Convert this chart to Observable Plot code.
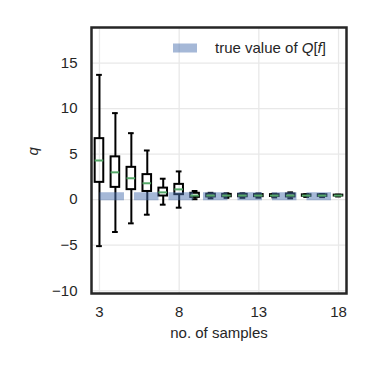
<!DOCTYPE html>
<html>
<head>
<meta charset="utf-8">
<script src="https://cdn.jsdelivr.net/npm/d3@7"></script>
<script src="https://cdn.jsdelivr.net/npm/@observablehq/plot@0.6"></script>
<style>
  html, body { margin: 0; padding: 0; background: white; }
</style>
</head>
<body>
<div id="chart"></div>
<script>
// Data
const sampleSizes = [3, 4, 5, 6, 7, 8, 9, 10, 11, 12, 13, 14, 15, 16, 17, 18];
const whiskerLow  = [-5.1, -3.55, -2.6, -1.65, -0.55, -0.88, 0.05, 0.15, 0.2, 0.2, 0.22, 0.25, 0.15, 0.3, 0.28, 0.35];
const quartile1   = [1.9, 1.35, 1.1, 0.9, 0.4, 0.55, 0.25, 0.3, 0.32, 0.32, 0.33, 0.35, 0.3, 0.37, 0.36, 0.4];
const medians     = [4.3, 3.0, 2.35, 1.8, 0.8, 1.13, 0.45, 0.45, 0.45, 0.45, 0.45, 0.45, 0.45, 0.45, 0.45, 0.45];
const quartile3   = [6.7, 4.7, 3.55, 2.75, 1.27, 1.68, 0.7, 0.6, 0.58, 0.58, 0.56, 0.55, 0.62, 0.53, 0.54, 0.5];
const whiskerHigh = [13.7, 9.5, 7.3, 5.4, 2.3, 3.1, 0.95, 0.75, 0.7, 0.7, 0.68, 0.65, 0.8, 0.6, 0.62, 0.55];
const trueValue = 0.37;
const xTicks = [3, 8, 13, 18];
const yTicks = [-10, -5, 0, 5, 10, 15];

const rows = sampleSizes.map((n, i) => ({
  n, lo: whiskerLow[i], q1: quartile1[i], med: medians[i], q3: quartile3[i], hi: whiskerHigh[i]
}));
const trueRows = [
  {n: sampleSizes[0], v: trueValue},
  {n: sampleSizes[sampleSizes.length - 1], v: trueValue}
];

const boxHalf = 0.27, capHalf = 0.18;
const font = "'Liberation Sans', Arial, sans-serif";

const chart = Plot.plot({
  width: 373,
  height: 373,
  marginLeft: 91,
  marginRight: 27,
  marginTop: 27,
  marginBottom: 80,
  style: {fontFamily: font, fontSize: "15px", color: "#262626", background: "white"},
  x: {domain: [2.5, 18.5], label: null},
  y: {domain: [-10.3, 18.9], label: null},
  marks: [
    Plot.gridX(xTicks, {stroke: "#e8e8e8", strokeOpacity: 1, strokeWidth: 1.3}),
    Plot.gridY(yTicks, {stroke: "#e8e8e8", strokeOpacity: 1, strokeWidth: 1.3}),
    Plot.axisX(xTicks, {tickSize: 0, tickPadding: 13, fontSize: 15, label: null, tickFormat: d => String(d)}),
    Plot.axisY(yTicks, {tickSize: 0, tickPadding: 14, fontSize: 15, label: null, tickFormat: d => d < 0 ? "\u2212" + Math.abs(d) : String(d)}),
    // whiskers
    Plot.ruleX(rows, {x: "n", y1: "lo", y2: "q1", stroke: "black", strokeWidth: 2}),
    Plot.ruleX(rows, {x: "n", y1: "q3", y2: "hi", stroke: "black", strokeWidth: 2}),
    // caps
    Plot.ruleY(rows, {y: "lo", x1: d => d.n - capHalf, x2: d => d.n + capHalf, stroke: "black", strokeWidth: 2}),
    Plot.ruleY(rows, {y: "hi", x1: d => d.n - capHalf, x2: d => d.n + capHalf, stroke: "black", strokeWidth: 2}),
    // boxes
    Plot.rect(rows, {x1: d => d.n - boxHalf, x2: d => d.n + boxHalf, y1: "q1", y2: "q3", fill: "none", stroke: "black", strokeWidth: 2}),
    // true value band
    Plot.lineY(trueRows, {x: "n", y: "v", stroke: "#4c72b0", strokeOpacity: 0.5, strokeWidth: 8, strokeDasharray: "24.5,10", strokeLinecap: "butt"}),
    // medians
    Plot.ruleY(rows, {y: "med", x1: d => d.n - boxHalf, x2: d => d.n + boxHalf, stroke: "#55a868", strokeWidth: 2}),
    Plot.frame({stroke: "#262626", strokeWidth: 2.5}),
    Plot.text(["no. of samples"], {frameAnchor: "bottom", dy: 44, fontSize: 15, fill: "#262626"}),
    Plot.text(["q"], {frameAnchor: "left", dx: -58, dy: -5, rotate: -90, fontSize: 15, fontStyle: "italic", fill: "#262626"})
  ]
});

// Legend (top right, inside frame)
const svg = d3.select(chart);
const lg = svg.append("g").attr("class", "legend").attr("text-anchor", "start");
lg.append("rect")
  .attr("x", 173).attr("y", 43.5).attr("width", 24).attr("height", 9)
  .attr("fill", "#4c72b0").attr("fill-opacity", 0.5);
const t = lg.append("text")
  .attr("x", 215).attr("y", 53)
  .attr("text-anchor", "start")
  .attr("font-family", font).attr("font-size", 15).attr("fill", "#262626");
t.append("tspan").text("true value of ");
t.append("tspan").attr("font-style", "italic").text("Q");
t.append("tspan").text("[");
t.append("tspan").attr("font-style", "italic").text("f");
t.append("tspan").text("]");

document.getElementById("chart").appendChild(chart);
</script>
</body>
</html>
